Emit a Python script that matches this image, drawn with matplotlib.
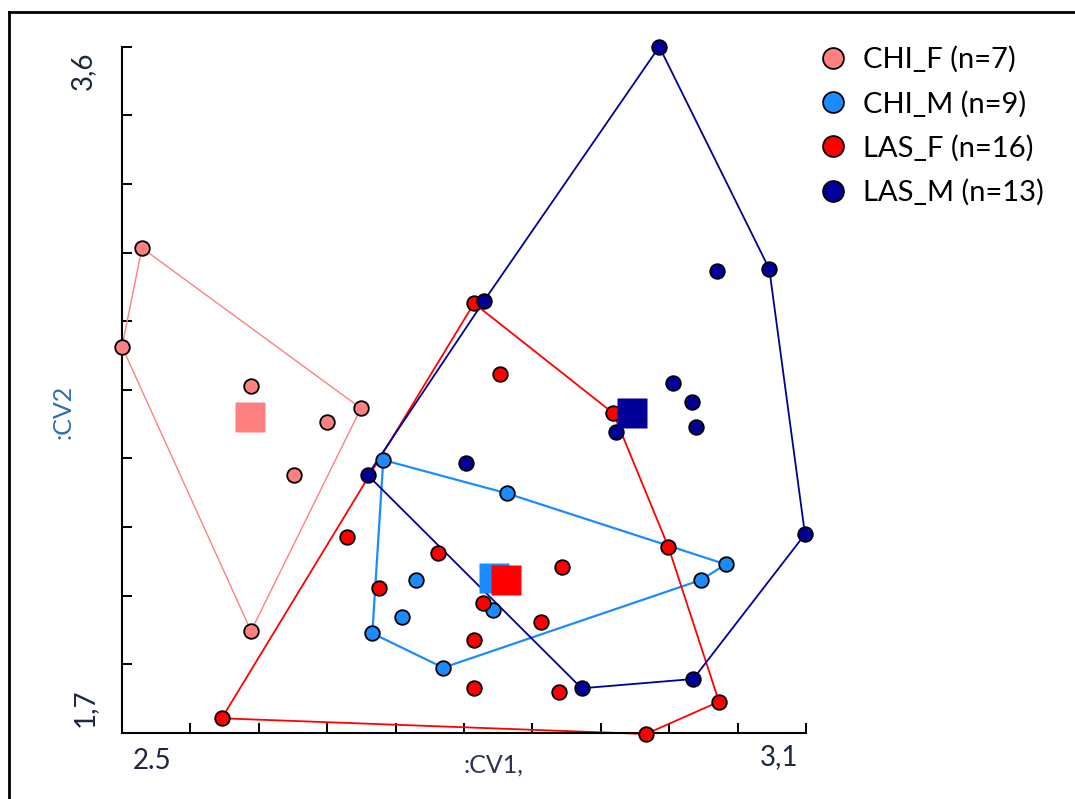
import numpy as np
import matplotlib
matplotlib.use("Agg")
import matplotlib.pyplot as plt
from matplotlib.lines import Line2D

# CV scores
chi_f_x = [2.5175, 2.5000, 2.6132, 2.7096, 2.6796, 2.6509, 2.6132]
chi_f_y = [3.0427, 2.7695, 2.6615, 2.5989, 2.5602, 2.4143, 1.9824]

chi_m_x = [2.7292, 2.8375, 3.0296, 3.0079, 2.7576, 2.7454, 2.7196, 2.7818, 2.8252]
chi_m_y = [2.4558, 2.3636, 2.1670, 2.1236, 2.1236, 2.0203, 1.9760, 1.8808, 2.0405]

las_f_x = [2.8088, 2.8316, 2.9310, 2.9792, 2.6976, 2.7775, 2.8857, 2.7254,
           2.8169, 2.8675, 2.8090, 2.8090, 2.8836, 3.0237, 2.9596, 2.5875]
las_f_y = [2.8896, 2.6931, 2.5851, 2.2158, 2.2435, 2.1975, 2.1604, 2.1023,
           2.0591, 2.0081, 1.9575, 1.8238, 1.8127, 1.7867, 1.6972, 1.7407]

las_m_x = [2.9713, 3.0678, 3.0217, 2.8175, 2.9836, 2.9997, 3.0035, 2.9333,
           2.8015, 2.7155, 3.0991, 3.0011, 2.9032]
las_m_y = [3.6000, 2.9846, 2.9790, 2.8960, 2.6681, 2.6172, 2.5480, 2.5342,
           2.4467, 2.4143, 2.2501, 1.8495, 1.8238]

groups = ["CHI_F (n=7)", "CHI_M (n=9)", "LAS_F (n=16)", "LAS_M (n=13)"]
colors = ["#ff8080", "#1a8cff", "#ff0000", "#000099"]
hull_lw = [1.0, 1.6, 1.3, 1.3]


def convex_hull(xs, ys):
    pts = sorted(zip(xs, ys))

    def cross(o, a, b):
        return (a[0] - o[0]) * (b[1] - o[1]) - (a[1] - o[1]) * (b[0] - o[0])

    lower = []
    for p in pts:
        while len(lower) >= 2 and cross(lower[-2], lower[-1], p) <= 0:
            lower.pop()
        lower.append(p)
    upper = []
    for p in reversed(pts):
        while len(upper) >= 2 and cross(upper[-2], upper[-1], p) <= 0:
            upper.pop()
        upper.append(p)
    hull = lower[:-1] + upper[:-1]
    hull.append(hull[0])
    return [p[0] for p in hull], [p[1] for p in hull]


plt.rcParams['font.family'] = ['Lato', 'DejaVu Sans']

fig = plt.figure(figsize=(10.75, 7.99), dpi=100)
ax = fig.add_axes([122 / 1075, 66 / 799, 684 / 1075, 686.3 / 799])

data = [(chi_f_x, chi_f_y), (chi_m_x, chi_m_y), (las_f_x, las_f_y), (las_m_x, las_m_y)]
for (xs, ys), col, lw, name in zip(data, colors, hull_lw, groups):
    hx, hy = convex_hull(xs, ys)
    ax.plot(hx, hy, color=col, lw=lw, zorder=2, clip_on=False)
    ax.plot(xs, ys, 'o', ms=10.5, mfc=col, mec='black', mew=1.3,
            zorder=3, clip_on=False, label=name)

# group centroids
for (xs, ys), col in zip(data, colors):
    ax.plot(np.mean(xs), np.mean(ys), 's', ms=21.5, mfc=col, mec='none',
            zorder=4, clip_on=False)

ax.set_xlim(2.5, 3.1)
ax.set_ylim(1.7, 3.6)
ax.set_xticks(np.linspace(2.5, 3.1, 11))
ax.set_yticks(np.linspace(1.7, 3.6, 11))
ax.set_xticklabels([])
ax.set_yticklabels([])
ax.tick_params(direction='in', length=7, width=1.4, color='black')
for s in ['top', 'right']:
    ax.spines[s].set_visible(False)
for s in ['left', 'bottom']:
    ax.spines[s].set_linewidth(1.5)

num_col = '#1c2840'
fs = 20
ax.annotate("2.5", xy=(0, 0), xycoords='axes fraction', xytext=(11, -28),
            textcoords='offset pixels', ha='left', va='center', fontsize=fs, color=num_col)
ax.annotate("3,1", xy=(1, 0), xycoords='axes fraction', xytext=(-8, -24),
            textcoords='offset pixels', ha='right', va='center', fontsize=fs, color=num_col)
ax.annotate(":CV1,", xy=(0.543, 0), xycoords='axes fraction', xytext=(0, -32),
            textcoords='offset pixels', ha='center', va='center', fontsize=18, color='#2a3650')
ax.annotate("3,6", xy=(0, 1), xycoords='axes fraction', xytext=(-39, -5),
            textcoords='offset pixels', ha='center', va='top', rotation=90,
            fontsize=fs, color=num_col)
ax.annotate("1,7", xy=(0, 0), xycoords='axes fraction', xytext=(-37, 6),
            textcoords='offset pixels', ha='center', va='bottom', rotation=90,
            fontsize=fs, color=num_col)
ax.annotate(":CV2", xy=(0, 0.4677), xycoords='axes fraction', xytext=(-59, 0),
            textcoords='offset pixels', ha='center', va='center', rotation=90,
            fontsize=18, color='#2f6fb0')

leg_handles = [Line2D([], [], ls='none', marker='o', ms=15, mfc=c, mec='black', mew=1.3)
               for c in colors]
fig.legend(leg_handles, groups, loc='upper left', bbox_to_anchor=(819 / 1075, 1 - 46 / 799),
           frameon=False, fontsize=21, handlelength=0.95, handletextpad=0.55,
           labelspacing=0.6, borderpad=0, borderaxespad=0)

# outer frame (top and left edges)
fig.add_artist(Line2D([9 / 1075, 1], [1 - 12 / 799, 1 - 12 / 799], color='black', lw=2,
                      transform=fig.transFigure))
fig.add_artist(Line2D([9 / 1075, 9 / 1075], [0, 1 - 12 / 799], color='black', lw=2,
                      transform=fig.transFigure))

fig.savefig("out.png", dpi=100)
